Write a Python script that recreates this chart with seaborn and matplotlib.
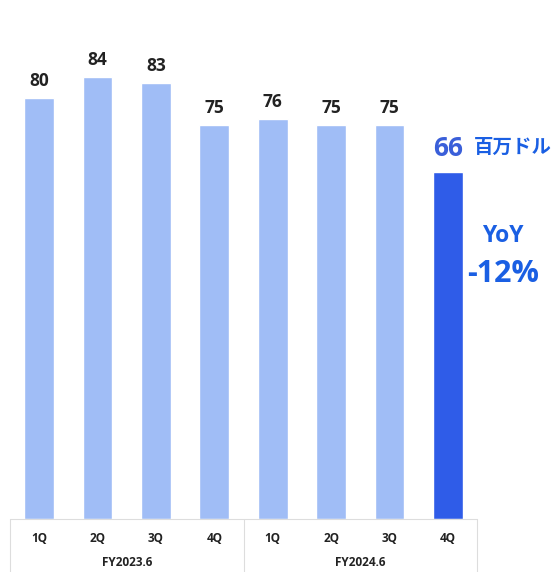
import numpy as np
import pandas as pd
import seaborn as sns
import matplotlib.pyplot as plt
from matplotlib import transforms

# データ
quarters = ["1Q", "2Q", "3Q", "4Q", "1Q", "2Q", "3Q", "4Q"]
years = ["FY2023.6", "FY2023.6", "FY2023.6", "FY2023.6",
         "FY2024.6", "FY2024.6", "FY2024.6", "FY2024.6"]
values = [80, 84, 83, 75, 76, 75, 75, 66]
group_labels = ["FY2023.6", "FY2024.6"]
unit_label = "百万ドル"
yoy_label = "YoY"
yoy_value = "-12%"

light = "#a0bdf6"
dark = "#2f5ce8"
blue_text = "#1a5fe3"

df = pd.DataFrame({"key": [f"{y}-{q}" for y, q in zip(years, quarters)],
                   "value": values})
colors = [light] * (len(values) - 1) + [dark]

sns.set_style("white")
plt.rcParams['font.family'] = ['Open Sans', 'Noto Sans CJK JP', 'DejaVu Sans']

fig = plt.figure(figsize=(5.59, 5.72), dpi=100)
ax = fig.add_axes([10 / 559, 53 / 572, 467 / 559, 519 / 572])

sns.barplot(data=df, x="key", y="value", hue="key", palette=colors,
            legend=False, width=0.51, saturation=1, ax=ax)

ax.set_xlim(-0.5, len(values) - 0.5)
ax.set_ylim(0, 98.7)
ax.set_xlabel("")
ax.set_ylabel("")
ax.set_yticks([])
ax.set_xticks(range(len(values)))
ax.set_xticklabels(quarters, fontsize=8.5, fontweight="bold", color="#222222")
ax.tick_params(axis="x", length=0, pad=9)
for s in ax.spines.values():
    s.set_visible(False)

# 値ラベル
for i, v in enumerate(values[:-1]):
    ax.text(i, v + 1.5, str(v), ha="center", va="bottom",
            fontsize=12.5, fontweight="bold", color="#222222")

last = len(values) - 1
ax.text(last, values[-1] + 1.9, str(values[-1]), ha="center", va="bottom",
        fontsize=19, fontweight="bold", color="#3a5fd9")
ax.text(last + 0.44, values[-1] + 2.8, unit_label, ha="left", va="bottom",
        fontsize=14, fontweight="bold", color=blue_text,
        family=['Noto Sans CJK JP', 'DejaVu Sans'])
ax.text(last + 0.95, 51.6, yoy_label, ha="center", va="bottom",
        fontsize=16.5, fontweight="bold", color=blue_text)
ax.text(last + 0.95, 43.8, yoy_value, ha="center", va="bottom",
        fontsize=22, fontweight="bold", color=blue_text)

# 下部の表
trans = transforms.blended_transform_factory(ax.transData, fig.transFigure)
line_kw = dict(color="#dddddd", lw=0.8, transform=trans, clip_on=False)
ax.plot([-0.5, last + 0.5], [53 / 572, 53 / 572], **line_kw)
ax.plot([-0.5, -0.5], [0, 53 / 572], **line_kw)
ax.plot([last + 0.5, last + 0.5], [0, 53 / 572], **line_kw)
ax.plot([3.5, 3.5], [0, 53 / 572], **line_kw)
for g, name in enumerate(group_labels):
    ax.text(g * 4 + 1.5, 10 / 572, name, ha="center", va="center",
            fontsize=8.5, fontweight="bold", color="#222222", transform=trans)

fig.savefig("out.png", dpi=100)
